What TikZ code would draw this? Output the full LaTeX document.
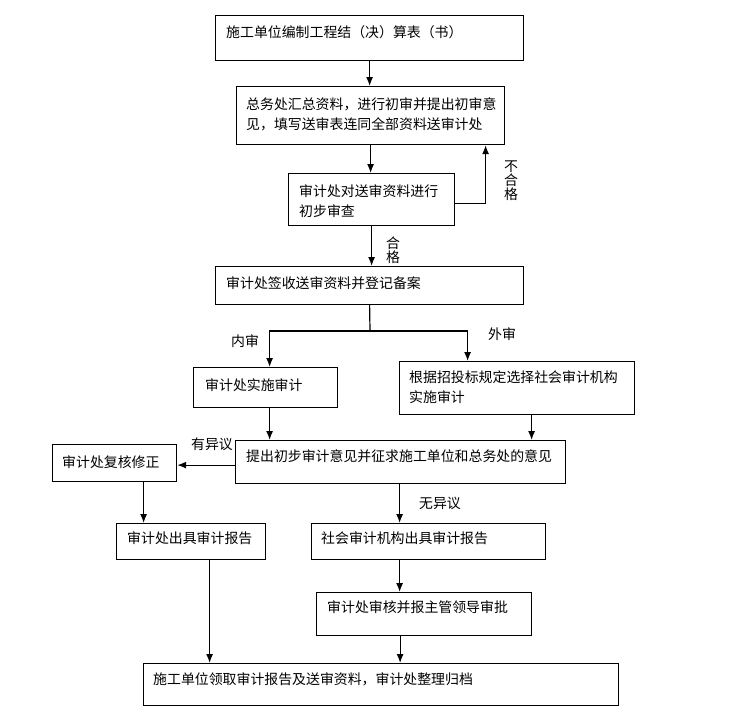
\documentclass[tikz,border=0pt]{standalone}
\usepackage{fontspec}
\setmainfont{Noto Sans CJK SC}
\usetikzlibrary{arrows.meta,calc}
\tikzset{
  box/.style={draw, line width=1.2pt, rectangle, inner sep=0pt, anchor=north west},
  txt/.style={inner sep=0pt, anchor=west, align=left, font=\fontsize{13.9}{20}\selectfont},
  lbl/.style={inner sep=0pt, align=center, font=\fontsize{13.9}{14}\selectfont},
  arr/.style={line width=1.2pt, -{Latex[length=9pt,width=7pt]}},
  ln/.style={line width=1.2pt}
}
\begin{document}
\begin{tikzpicture}[x=1pt,y=-1pt]
\useasboundingbox (0,0) rectangle (733,726);
% boxes
\node[box, minimum width=308pt, minimum height=45pt] (b1) at (215,15) {};
\node[box, minimum width=268pt, minimum height=58pt] (b2) at (236,86) {};
\node[box, minimum width=166pt, minimum height=52pt] (b3) at (288,173) {};
\node[box, minimum width=308pt, minimum height=38pt] (b4) at (215,266) {};
\node[box, minimum width=144pt, minimum height=40pt] (b5) at (193,367) {};
\node[box, minimum width=235pt, minimum height=53pt] (b6) at (399,361) {};
\node[box, minimum width=330pt, minimum height=43pt] (b7) at (235,440) {};
\node[box, minimum width=124pt, minimum height=37pt] (b8) at (52,444) {};
\node[box, minimum width=149pt, minimum height=36pt] (b9) at (116,523) {};
\node[box, minimum width=234pt, minimum height=36pt] (b10) at (311,523) {};
\node[box, minimum width=215pt, minimum height=43pt] (b11) at (316,592) {};
\node[box, minimum width=475pt, minimum height=42pt] (b12) at (143,663) {};
% texts
\node[txt] (t1) at (226,32) {施工单位编制工程结（决）算表（书）};
\node[txt] (t2) at (246,114) {总务处汇总资料，进行初审并提出初审意\\见，填写送审表连同全部资料送审计处};
\node[txt] (t3) at (299,201) {审计处对送审资料进行\\初步审查};
\node[txt] (t4) at (226,283) {审计处签收送审资料并登记备案};
\node[txt] (t5) at (205,385) {审计处实施审计};
\node[txt] (t6) at (409,387) {根据招投标规定选择社会审计机构\\实施审计};
\node[txt] (t7) at (246,456) {提出初步审计意见并征求施工单位和总务处的意见};
\node[txt] (t8) at (62,462) {审计处复核修正};
\node[txt] (t9) at (127,538) {审计处出具审计报告};
\node[txt] (t10) at (321,538) {社会审计机构出具审计报告};
\node[txt] (t11) at (327,607) {审计处审核并报主管领导审批};
\node[txt] (t12) at (153,679) {施工单位领取审计报告及送审资料，审计处整理归档};
% labels
\node[lbl] (l1) at (511,181) {不\\合\\格};
\node[lbl] (l2) at (393,250) {合\\格};
\node[lbl] (l3) at (245,341) {内审};
\node[lbl] (l4) at (502,334) {外审};
\node[lbl] (l5) at (212,444) {有异议};
\node[lbl] (l6) at (440,503) {无异议};
% connectors
\coordinate (split) at (370,331);
\draw[arr] (b1.south) -- (b1.south |- b2.north);
\draw[arr] (b2.south) -- (b2.south |- b3.north);
\draw[arr] ([yshift=-4pt]b3.east) -| ([xshift=115pt]b2.south);
\draw[arr] (b3.south) -- (b3.south |- b4.north);
\draw[ln] (b4.south) -- (split);
\draw[arr] (split) -| ([xshift=4pt]b5.north);
\draw[arr] (split) -| ([xshift=-49.5pt]b6.north);
\draw[arr] ([xshift=4pt]b5.south) -- ([xshift=4pt]b5.south |- b7.north);
\draw[arr] ([xshift=14.5pt]b6.south) -- ([xshift=14.5pt]b6.south |- b7.north);
\draw[arr] ([yshift=-3pt]b7.west) -- ([yshift=-3pt]b7.west -| b8.east);
\draw[arr] ([xshift=29pt]b8.south) -- ([xshift=29pt]b8.south |- b9.north);
\draw[arr] ([xshift=-1pt]b7.south) -- ([xshift=-1pt]b7.south |- b10.north);
\draw[arr] ([xshift=-29pt]b10.south) -- ([xshift=-29pt]b10.south |- b11.north);
\draw[arr] ([xshift=-24pt]b11.south) -- ([xshift=-24pt]b11.south |- b12.north);
\draw[arr] ([xshift=18.5pt]b9.south) -- ([xshift=18.5pt]b9.south |- b12.north);
\end{tikzpicture}
\end{document}
